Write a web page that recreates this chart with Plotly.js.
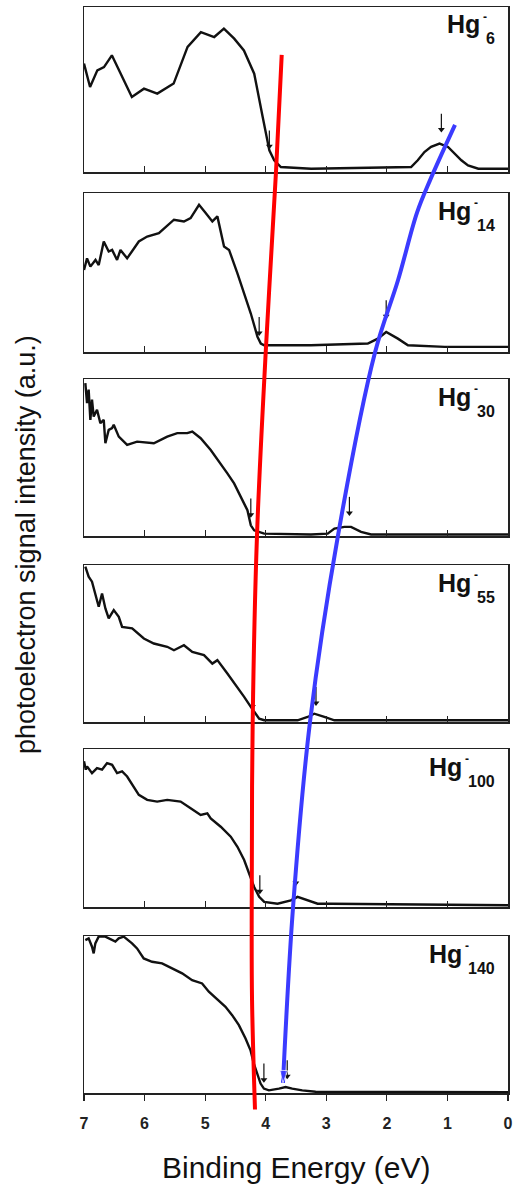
<!DOCTYPE html>
<html><head><meta charset="utf-8">
<script src="https://cdn.plot.ly/plotly-3.0.1.min.js"></script>
<style>html,body{margin:0;padding:0;background:#fff}</style>
</head><body>
<div id="chart" style="width:514px;height:1186px"></div>
<script>
// ---------------- data ----------------
const clusterSizes = ["6", "14", "30", "55", "100", "140"];
const ionCharge = "-";

const hg6_eV = [7.0,6.90,6.78,6.67,6.54,6.40,6.21,6.01,5.79,5.52,5.29,5.07,4.85,4.69,4.52,4.36,4.19,4.05,3.94,3.86,3.75,3.25,1.60,1.49,1.38,1.27,1.13,0.99,0.88,0.77,0.66,0.49,0.0];
const hg6_I  = [0.657,0.515,0.616,0.636,0.707,0.596,0.455,0.505,0.475,0.536,0.758,0.848,0.818,0.869,0.808,0.737,0.596,0.333,0.131,0.071,0.03,0.02,0.03,0.071,0.121,0.152,0.172,0.152,0.111,0.071,0.04,0.02,0.02];

const hg14_eV = [7.0,6.95,6.895,6.81,6.757,6.674,6.592,6.536,6.454,6.398,6.288,6.095,5.957,5.764,5.515,5.350,5.240,5.101,4.991,4.881,4.798,4.688,4.605,4.467,4.246,4.136,4.081,4.025,3.253,2.315,2.149,2.011,1.818,1.652,1.045,0.0];
const hg14_I  = [0.516,0.589,0.537,0.579,0.547,0.695,0.632,0.642,0.579,0.642,0.589,0.695,0.726,0.747,0.832,0.821,0.842,0.926,0.874,0.821,0.853,0.663,0.642,0.495,0.242,0.095,0.053,0.042,0.042,0.053,0.084,0.126,0.084,0.042,0.032,0.032];

const hg30_eV = [6.978,6.95,6.923,6.895,6.868,6.840,6.785,6.730,6.674,6.647,6.592,6.536,6.509,6.426,6.288,6.123,5.847,5.626,5.460,5.295,5.212,5.074,4.908,4.743,4.633,4.522,4.412,4.302,4.246,4.191,4.025,3.253,2.977,2.866,2.701,2.591,2.426,2.260,1.597,0.0];
const hg30_I  = [0.974,0.846,0.932,0.740,0.868,0.761,0.804,0.719,0.740,0.591,0.676,0.687,0.708,0.633,0.580,0.601,0.591,0.633,0.655,0.655,0.665,0.623,0.548,0.463,0.399,0.335,0.249,0.164,0.068,0.036,0.015,0.01,0.015,0.047,0.058,0.058,0.026,0.01,0.01,0.01];

const hg55_eV = [6.978,6.923,6.868,6.812,6.757,6.702,6.647,6.592,6.509,6.426,6.371,6.205,6.012,5.847,5.626,5.515,5.350,5.212,5.019,4.881,4.798,4.633,4.467,4.356,4.246,4.108,4.025,3.474,3.308,3.198,3.032,2.866,0.0];
const hg55_I  = [0.99,0.926,0.894,0.819,0.734,0.819,0.723,0.660,0.713,0.670,0.606,0.596,0.532,0.500,0.479,0.457,0.489,0.447,0.426,0.372,0.394,0.309,0.223,0.160,0.096,0.021,0.011,0.011,0.032,0.053,0.032,0.011,0.011];

const hg100_eV = [7.0,6.97,6.95,6.868,6.785,6.702,6.619,6.536,6.454,6.371,6.288,6.205,6.095,5.957,5.792,5.626,5.405,5.240,5.074,4.964,4.908,4.743,4.577,4.467,4.356,4.274,4.191,4.108,4.025,3.805,3.584,3.474,3.308,3.143,2.922,0.0];
const hg100_I  = [0.922,0.869,0.890,0.847,0.879,0.869,0.911,0.900,0.847,0.858,0.826,0.773,0.710,0.678,0.667,0.678,0.667,0.625,0.583,0.593,0.561,0.508,0.445,0.381,0.297,0.212,0.127,0.064,0.032,0.021,0.042,0.064,0.042,0.021,0.021,0.011];

const hg140_eV = [6.978,6.923,6.868,6.840,6.813,6.758,6.647,6.537,6.482,6.427,6.344,6.207,6.124,6.014,5.876,5.711,5.545,5.380,5.215,5.050,4.939,4.774,4.664,4.554,4.443,4.333,4.251,4.196,4.140,4.085,4.030,3.948,3.782,3.672,3.562,3.397,3.176,0.0];
const hg140_I  = [0.974,0.985,0.932,0.889,0.953,0.996,0.996,0.974,0.964,0.985,0.996,0.953,0.921,0.857,0.836,0.826,0.794,0.762,0.719,0.698,0.645,0.591,0.549,0.496,0.432,0.347,0.272,0.187,0.123,0.060,0.028,0.017,0.028,0.038,0.028,0.017,0.008,0.005];

// small black arrows marking the onsets (tip position, per panel)
const onsetArrowEV = [[3.94,1.10],[4.108,2.011],[4.246,2.618],[4.219,3.170],[4.097,3.502],[4.030,3.645]];
const onsetArrowI  = [[0.131,0.232],[0.095,0.20],[0.111,0.122],[0.074,0.096],[0.074,0.127],[0.06,0.081]];

// guide curves drawn across all panels (eV, depth = fraction of the stack from the top)
const redGuideEV     = [3.736,3.830,4.000,4.144,4.215,4.231,4.226,4.177];
const redGuideDepth  = [0.045,0.150,0.313,0.478,0.646,0.813,0.896,0.995];
const blueGuideEV    = [0.875,1.288,1.502,1.816,2.196,2.807,3.269,3.549,3.715];
const blueGuideDepth = [0.108,0.158,0.187,0.248,0.313,0.478,0.646,0.813,0.971];

const xTickVals = [7,6,5,4,3,2,1,0];
const xTickText = ["7","6","5","4","3","2","1","0"];

const spectraEV = [hg6_eV, hg14_eV, hg30_eV, hg55_eV, hg100_eV, hg140_eV];
const spectraI  = [hg6_I, hg14_I, hg30_I, hg55_I, hg100_I, hg140_I];

// ---------------- layout ----------------
const W = 514, H = 1186;
const M = {l: 84, r: 6, t: 5, b: 71};
const plotW = W - M.l - M.r;
const plotH = H - M.t - M.b;
const panelTopPx = [7, 193, 379, 565, 749, 936];
const panelBotPx = [172, 352, 536, 722, 907, 1093];
const ARROW_LEN_PX = 20;
const FONT = 'Liberation Sans, Arial, Helvetica, sans-serif';

const traces = [];
const layout = {
  width: W, height: H,
  margin: M,
  paper_bgcolor: '#ffffff',
  plot_bgcolor: 'rgba(0,0,0,0)',
  showlegend: false,
  font: {family: FONT, color: '#111'},
  annotations: []
};

for (let i = 0; i < 6; i++) {
  const n = i + 1;
  const xa = 'x' + n, ya = 'y' + n;
  traces.push({
    x: spectraEV[i], y: spectraI[i],
    xaxis: xa, yaxis: ya,
    type: 'scatter', mode: 'lines',
    line: {color: '#111', width: 2.4},
    hoverinfo: 'skip'
  });
  // onset arrows: stem from tail to tip, plus a small head at the tip
  const lenFrac = ARROW_LEN_PX / (panelBotPx[i] - panelTopPx[i]);
  const sx = [], sy = [];
  onsetArrowEV[i].forEach((e, k) => {
    sx.push(e, e, null);
    sy.push(onsetArrowI[i][k] + lenFrac, onsetArrowI[i][k] + 0.02, null);
  });
  traces.push({
    x: sx, y: sy, xaxis: xa, yaxis: ya,
    type: 'scatter', mode: 'lines',
    line: {color: '#111', width: 1.2},
    hoverinfo: 'skip'
  });
  traces.push({
    x: onsetArrowEV[i], y: onsetArrowI[i].map(v => v + 0.025), xaxis: xa, yaxis: ya,
    type: 'scatter', mode: 'markers',
    marker: {symbol: 'triangle-down', size: 6, color: '#111'},
    hoverinfo: 'skip'
  });
  const last = (i === 5);
  layout['xaxis' + n] = {
    domain: [0, 1], range: [7, 0], anchor: ya,
    showline: true, mirror: true, linecolor: '#222', linewidth: 1.5,
    showgrid: false, zeroline: false,
    tickmode: 'array', tickvals: xTickVals, ticktext: xTickText,
    ticks: last ? 'outside' : 'inside', ticklen: 6, tickwidth: 1.2, tickcolor: '#222',
    showticklabels: last,
    tickfont: {family: FONT, size: 16, color: '#222', weight: 700},
    ticklabelstandoff: 9
  };
  layout['yaxis' + n] = {
    domain: [(H - M.b - panelBotPx[i]) / plotH, (H - M.b - panelTopPx[i]) / plotH],
    range: [0, 1], anchor: xa,
    showline: true, mirror: true, linecolor: '#222', linewidth: 1.5,
    showgrid: false, zeroline: false, ticks: '', showticklabels: false
  };

  // cluster label: "Hg" with a stacked charge superscript and size subscript
  const hgRightPx = 491 - 9 * clusterSizes[i].length;
  const lx = (hgRightPx - M.l) / plotW;
  layout.annotations.push({
    xref: xa + ' domain', yref: ya + ' domain',
    x: lx, y: 1, yshift: -17.5, xanchor: 'right', yanchor: 'middle',
    text: 'Hg', showarrow: false,
    font: {family: FONT, size: 25, color: '#111', weight: 700}
  });
  layout.annotations.push({
    xref: xa + ' domain', yref: ya + ' domain',
    x: lx, y: 1, yshift: -10, xshift: -1, xanchor: 'left', yanchor: 'middle',
    text: ionCharge, showarrow: false,
    font: {family: FONT, size: 12, color: '#111', weight: 700}
  });
  layout.annotations.push({
    xref: xa + ' domain', yref: ya + ' domain',
    x: lx, y: 1, yshift: -32, xshift: 2, xanchor: 'left', yanchor: 'middle',
    text: clusterSizes[i], showarrow: false,
    font: {family: FONT, size: 16, color: '#111', weight: 700}
  });
}

// overlay axes spanning the whole stack, for the guide curves
layout.xaxis7 = {domain: [0, 1], range: [7, 0], anchor: 'y7', visible: false, fixedrange: true};
layout.yaxis7 = {domain: [0, 1], range: [1, 0], anchor: 'x7', visible: false, fixedrange: true};

traces.push({
  x: redGuideEV, y: redGuideDepth, xaxis: 'x7', yaxis: 'y7',
  type: 'scatter', mode: 'lines',
  line: {color: '#ff0000', width: 4, shape: 'spline'},
  hoverinfo: 'skip'
});
traces.push({
  x: blueGuideEV, y: blueGuideDepth, xaxis: 'x7', yaxis: 'y7',
  type: 'scatter', mode: 'lines+markers',
  line: {color: '#3b3bff', width: 4, shape: 'spline'},
  marker: {
    symbol: 'arrow', angleref: 'previous', color: '#3b3bff',
    size: blueGuideEV.map((v, j) => j === blueGuideEV.length - 1 ? 13 : 0)
  },
  hoverinfo: 'skip'
});

// axis titles
layout.annotations.push({
  xref: 'paper', yref: 'paper',
  x: 0.5, y: (H - M.b - 1167) / plotH, xanchor: 'center', yanchor: 'middle',
  text: 'Binding Energy (eV)', showarrow: false,
  font: {family: FONT, size: 30, color: '#111'}
});
layout.annotations.push({
  xref: 'paper', yref: 'paper',
  x: (26 - M.l) / plotW, y: (H - M.b - 545) / plotH,
  xanchor: 'center', yanchor: 'middle', textangle: -90,
  text: 'photoelectron signal intensity (a.u.)', showarrow: false,
  font: {family: FONT, size: 27, color: '#111'}
});

Plotly.newPlot('chart', traces, layout, {staticPlot: true, displayModeBar: false});
</script>
</body></html>
